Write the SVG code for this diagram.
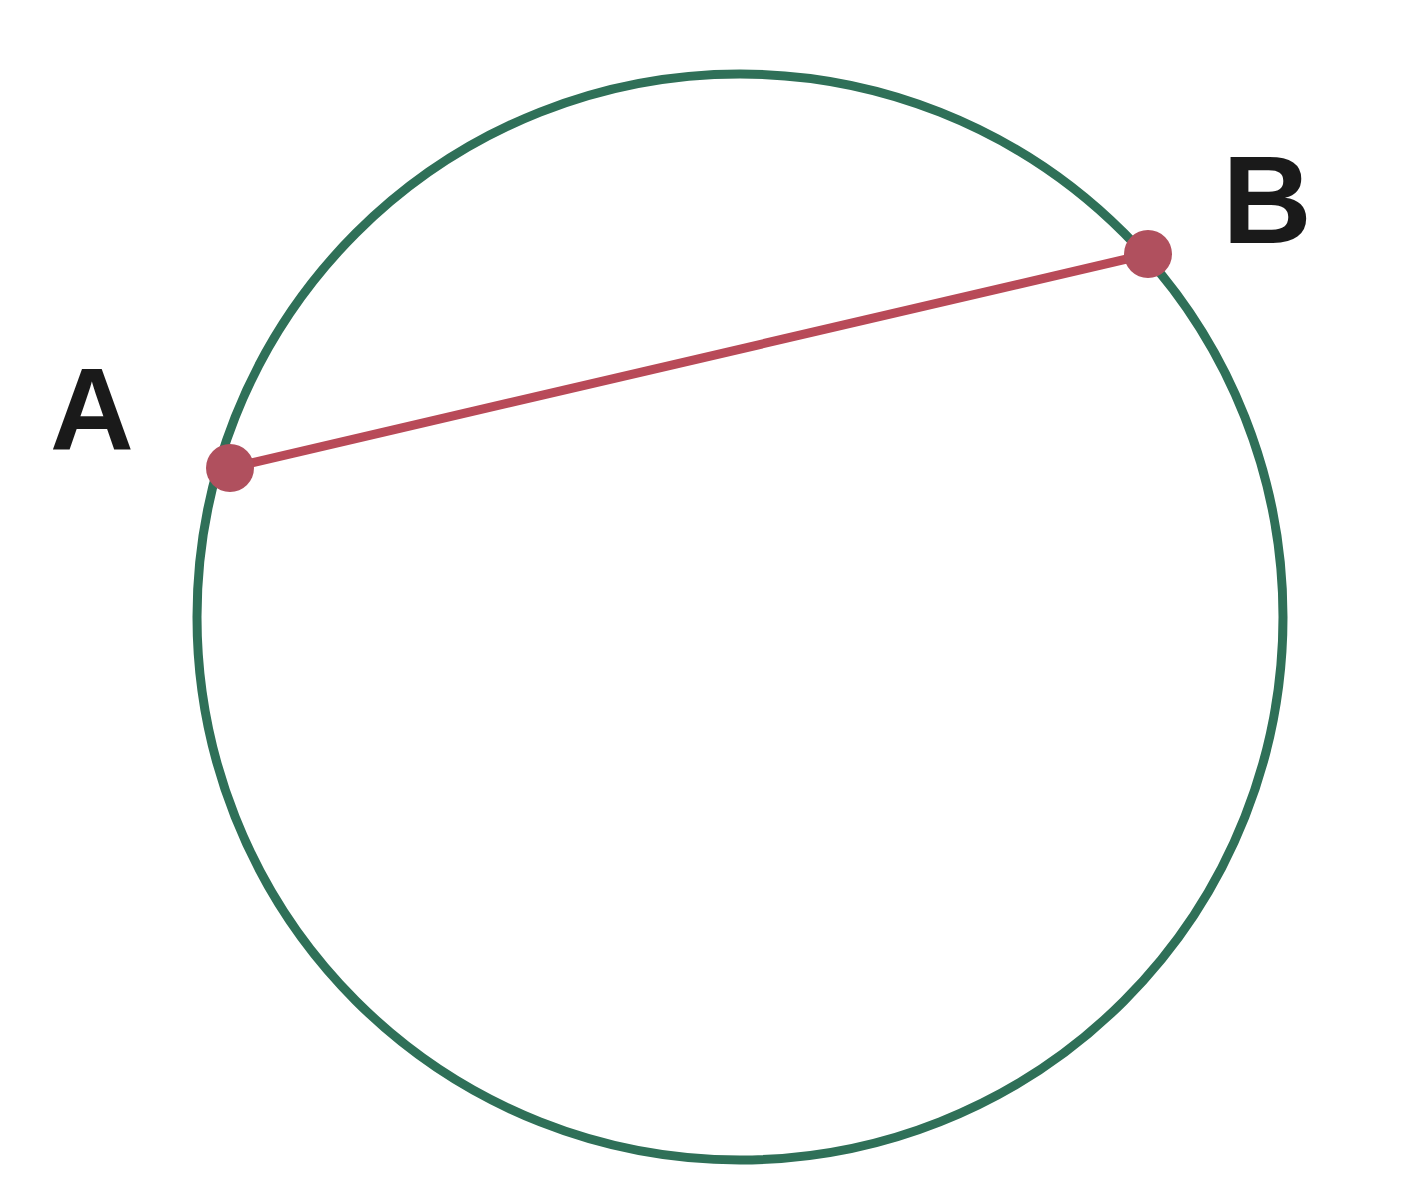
<svg xmlns="http://www.w3.org/2000/svg" width="1404" height="1200" viewBox="0 0 1404 1200">
<style>
.lbl{font-family:"Liberation Sans",Arial,sans-serif;font-weight:bold;fill:#1a1a1a}
.pt{fill:#b0505e}
</style>
<rect width="1404" height="1200" fill="#ffffff"/>
<g id="circle"><ellipse cx="740" cy="617" rx="543" ry="543" fill="none" stroke="#2f7058" stroke-width="9"/></g>
<g id="connectors"><line x1="230" y1="468" x2="1148" y2="254" stroke="#b84a58" stroke-width="9"/></g>
<g id="A"><circle class="pt" cx="230" cy="468" r="24"/><text class="lbl" x="92" y="450" font-size="116" text-anchor="middle">A</text></g>
<g id="B"><circle class="pt" cx="1148" cy="254" r="24"/><text class="lbl" x="1267" y="243" font-size="124" text-anchor="middle">B</text></g>
</svg>
